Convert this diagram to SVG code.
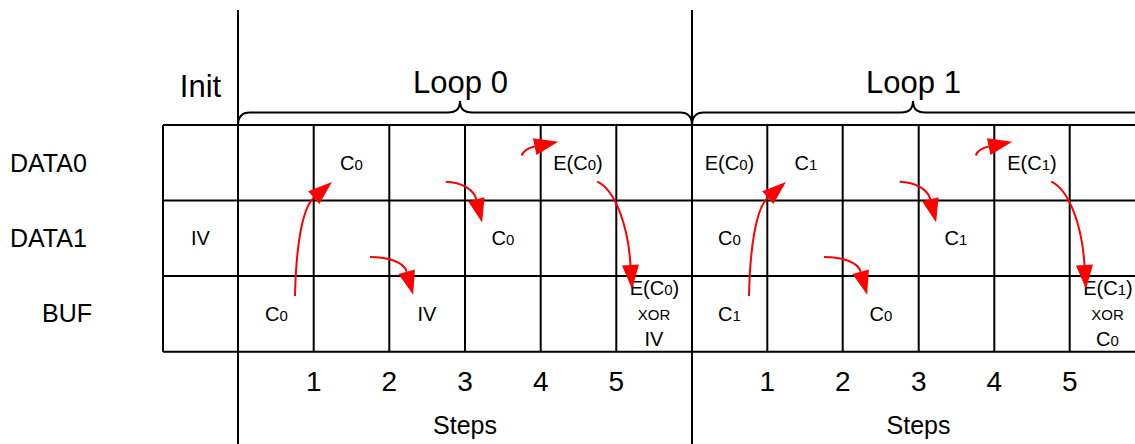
<svg xmlns="http://www.w3.org/2000/svg" width="1135" height="444" viewBox="0 0 1135 444">
<defs>
<style>
text{font-family:"Liberation Sans",Arial,sans-serif;fill:#000}
.big{font-size:31px}
.row{font-size:25px}
.cell{font-size:20px;text-anchor:middle}
.sub{font-size:15px}
.xor{font-size:15px;text-anchor:middle}
.num{font-size:28px;text-anchor:middle}
.steps{font-size:25px;text-anchor:middle}
.grid{stroke:#000;stroke-width:2;fill:none}
.brace{stroke:#000;stroke-width:2;fill:none}
.arr{stroke:#f00;stroke-width:2;fill:none;marker-end:url(#ah)}
</style>
<marker id="ah" markerUnits="userSpaceOnUse" viewBox="0 -10 26 20" markerWidth="26" markerHeight="20" refX="0" refY="0" orient="auto" overflow="visible">
<path d="M0,-8.5 L24,0 L0,8.5 z" fill="#f00"/>
</marker>
</defs>
<rect width="1135" height="444" fill="#fff"/>

<g id="grid" class="grid">
<path d="M163,125 H1140 M163,200.5 H1140 M163,276 H1140 M163,351.7 H1140"/>
<path d="M163,125 V351.7 M313.7,125 V351.7 M389.3,125 V351.7 M465,125 V351.7 M540.7,125 V351.7 M616.3,125 V351.7 M767.3,125 V351.7 M842.7,125 V351.7 M918.7,125 V351.7 M994.3,125 V351.7 M1069.7,125 V351.7"/>
<path d="M238,10 V444 M692,10 V444"/>
</g>

<g id="brace-loop0"><path class="brace" d="M238,125 Q238,112.5 250,112.5 L448,112.5 Q460,112.5 460,101 Q460,112.5 472,112.5 L680,112.5 Q692,112.5 692,125"/></g>
<g id="brace-loop1"><path class="brace" d="M692,125 Q692,112.5 704,112.5 L901,112.5 Q913,112.5 913,101 Q913,112.5 925,112.5 L1140,112.5"/></g>

<g id="title-init"><text class="big" x="200.5" y="96.5" text-anchor="middle">Init</text></g>
<g id="title-loop0"><text class="big" x="460.5" y="93.3" text-anchor="middle">Loop 0</text></g>
<g id="title-loop1"><text class="big" x="913.5" y="93.3" text-anchor="middle">Loop 1</text></g>

<g id="label-data0"><text class="row" x="10" y="171.7">DATA0</text></g>
<g id="label-data1"><text class="row" x="10" y="247.3">DATA1</text></g>
<g id="label-buf"><text class="row" x="42" y="322.3">BUF</text></g>

<g id="cell-init-data1"><text class="cell" x="200.5" y="245">IV</text></g>
<g id="cell-l0-data0-s1"><text class="cell" x="351.5" y="170">C<tspan class="sub">0</tspan></text></g>
<g id="cell-l0-data0-s4"><text class="cell" x="578" y="169.5">E(C<tspan class="sub">0</tspan>)</text></g>
<g id="cell-l0-data1-s3"><text class="cell" x="503" y="245">C<tspan class="sub">0</tspan></text></g>
<g id="cell-l0-buf-s0"><text class="cell" x="276.5" y="320.7">C<tspan class="sub">0</tspan></text></g>
<g id="cell-l0-buf-s2"><text class="cell" x="427" y="320.7">IV</text></g>
<g id="cell-l0-buf-s5">
<text class="cell" x="654.5" y="295">E(C<tspan class="sub">0</tspan>)</text>
<text class="xor" x="654" y="320">XOR</text>
<text class="cell" x="654" y="346">IV</text>
</g>
<g id="cell-l1-data0-s0"><text class="cell" x="729.5" y="169.5">E(C<tspan class="sub">0</tspan>)</text></g>
<g id="cell-l1-data0-s1"><text class="cell" x="806" y="170">C<tspan class="sub">1</tspan></text></g>
<g id="cell-l1-data0-s4"><text class="cell" x="1032" y="169.5">E(C<tspan class="sub">1</tspan>)</text></g>
<g id="cell-l1-data1-s0"><text class="cell" x="729.5" y="245">C<tspan class="sub">0</tspan></text></g>
<g id="cell-l1-data1-s3"><text class="cell" x="956" y="245">C<tspan class="sub">1</tspan></text></g>
<g id="cell-l1-buf-s0"><text class="cell" x="729.5" y="320.7">C<tspan class="sub">1</tspan></text></g>
<g id="cell-l1-buf-s2"><text class="cell" x="881" y="320.7">C<tspan class="sub">0</tspan></text></g>
<g id="cell-l1-buf-s5">
<text class="cell" x="1108" y="295">E(C<tspan class="sub">1</tspan>)</text>
<text class="xor" x="1107.5" y="320">XOR</text>
<text class="cell" x="1107.5" y="346">C<tspan class="sub">0</tspan></text>
</g>

<g id="steps-loop0">
<text class="num" x="313.7" y="390.7">1</text>
<text class="num" x="389.3" y="390.7">2</text>
<text class="num" x="465" y="390.7">3</text>
<text class="num" x="540.7" y="390.7">4</text>
<text class="num" x="616.3" y="390.7">5</text>
<text class="steps" x="465" y="434">Steps</text>
</g>
<g id="steps-loop1">
<text class="num" x="767.3" y="390.7">1</text>
<text class="num" x="842.7" y="390.7">2</text>
<text class="num" x="918.7" y="390.7">3</text>
<text class="num" x="994.3" y="390.7">4</text>
<text class="num" x="1069.7" y="390.7">5</text>
<text class="steps" x="918.5" y="434">Steps</text>
</g>

<g id="connectors">
<path class="arr" d="M295,296 C296,248 302,208 313.8,197.7"/>
<path class="arr" d="M445.7,181.7 C462,182 474,190 476.3,199.2"/>
<path class="arr" d="M370,257 C388,257 404,262 406.7,271.7"/>
<path class="arr" d="M521.7,155.5 C524,150 528,148 534.7,146.6"/>
<path class="arr" d="M597.3,181.7 C615,190 628,225 630.5,265"/>
<path class="arr" d="M749,296 C750,248 756,208 767.8,197.7"/>
<path class="arr" d="M899.7,181.7 C916,182 928,190 930.3,199.2"/>
<path class="arr" d="M824,257 C842,257 858,262 860.7,271.7"/>
<path class="arr" d="M975.7,155.5 C978,150 982,148 988.7,146.6"/>
<path class="arr" d="M1051.3,181.7 C1069,190 1082,225 1084.5,265"/>
</g>
</svg>
